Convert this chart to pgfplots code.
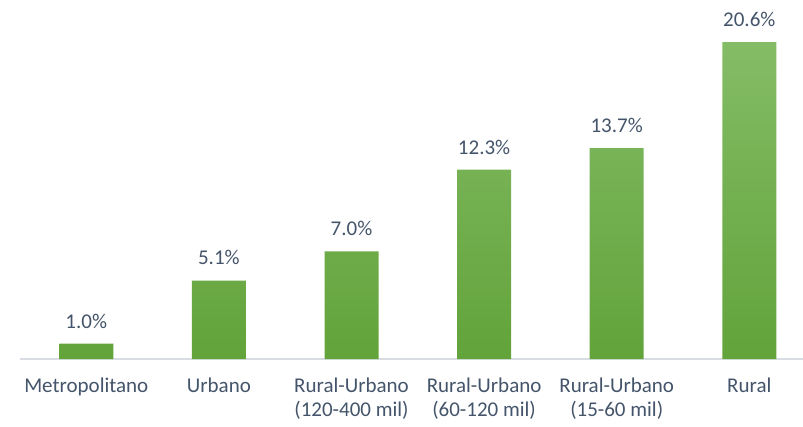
\documentclass[border=0pt]{standalone}
\usepackage{pgfplots}
\pgfplotsset{compat=1.18}
\usepackage{fontspec}
\setmainfont{Carlito}
\definecolor{txt}{RGB}{68,84,106}
\definecolor{bartop}{RGB}{132,188,102}
\definecolor{barbot}{RGB}{98,163,58}
\definecolor{baseln}{RGB}{217,221,227}

\begin{document}
\begin{tikzpicture}[x=0.75pt,y=0.75pt]
\begin{axis}[
    scale only axis,
    width=587.25pt,
    height=269.25pt,
    ymin=0, ymax=23.33,
    xmin=-0.5, xmax=5.405,
    axis y line=none,
    axis x line*=bottom,
    x axis line style={draw=baseln, line width=1.2pt, -},
    xtick={0,1,2,3,4,5},
    xticklabels={Metropolitano, Urbano, {Rural-Urbano\\(120-400 mil)}, {Rural-Urbano\\(60-120 mil)}, {Rural-Urbano\\(15-60 mil)}, Rural},
    xticklabel style={align=center, text=txt, font=\fontsize{15.75}{18.5}\selectfont, anchor=north, yshift=-10.5pt},
    major tick length=0pt,
    clip=false,
    ybar,
    bar width=40.5pt,
    nodes near coords={\pgfmathprintnumber[fixed,fixed zerofill,precision=1,assume math mode=true]{\pgfplotspointmeta}\%},
    nodes near coords style={text=txt, font=\fontsize{15.75}{18}\selectfont, anchor=south, yshift=8pt},
]
\addplot[draw=none, top color=bartop, bottom color=barbot] coordinates {
    (0,1.0) (1,5.1) (2,7.0) (3,12.3) (4,13.7) (5,20.6)
};
\end{axis}
\pgfresetboundingbox
\path (current axis.south west) ++(-15pt,-50.25pt) coordinate (bl);
\path (current axis.north east) coordinate (tr);
\path (bl) rectangle (tr);
\end{tikzpicture}
\end{document}
